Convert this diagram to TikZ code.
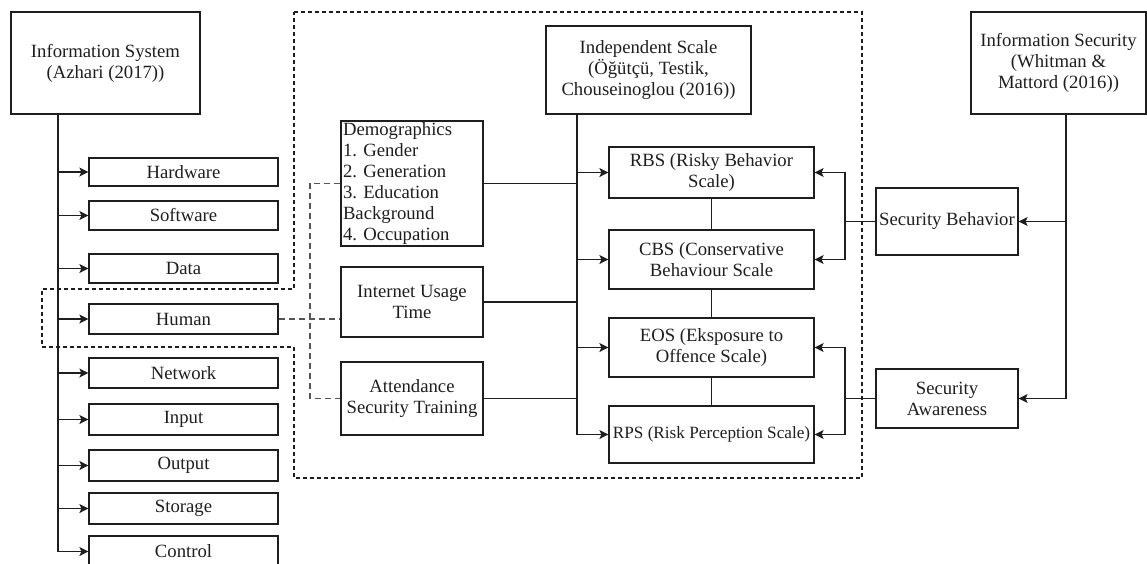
\documentclass[tikz,border=0pt]{standalone}
\usepackage{fontspec}
\setmainfont{Liberation Serif}
\usetikzlibrary{arrows.meta}
\definecolor{ink}{HTML}{1E1E1E}
\definecolor{dgray}{HTML}{555555}
\begin{document}
\frenchspacing
\begin{tikzpicture}[x=1pt,y=-1pt,
  box/.style={draw=ink,line width=1.2pt,rectangle,inner sep=1pt,align=center,
    text=ink,font=\fontsize{18.7}{21}\selectfont\frenchspacing},
  conn/.style={draw=ink,line width=1.2pt},
  arr/.style={conn,-{Stealth[length=9pt,width=9pt,inset=2pt]}},
  bound/.style={draw=ink,line width=1.2pt,dash pattern=on 4pt off 3pt},
  dsh/.style={draw=dgray,line width=1.4pt,dash pattern=on 6pt off 4pt}]
\useasboundingbox (0,0) rectangle (1147,563);

% dashed boundary
\draw[bound] (294,12) -- (862,12) -- (862,478) -- (294,478) -- (294,347)
  -- (42,347) -- (42,289) -- (294,289) -- cycle;

% left column
\node[box,minimum width=189pt,minimum height=102pt] (is) at (105.5,63)
  {Information System\\(Azhari (2017))};
\node[box,minimum width=189pt,minimum height=28pt] (hw) at (183.5,172) {Hardware};
\node[box,minimum width=189pt,minimum height=29pt] (sw) at (183.5,215.5) {Software};
\node[box,minimum width=189pt,minimum height=29pt] (da) at (183.5,268.5) {Data};
\node[box,minimum width=189pt,minimum height=30pt] (hu) at (183.5,319) {Human};
\node[box,minimum width=189pt,minimum height=30pt] (nw) at (183.5,373) {Network};
\node[box,minimum width=189pt,minimum height=31pt] (in) at (183.5,419.5) {Input};
\node[box,minimum width=189pt,minimum height=31pt] (ou) at (183.5,465.5) {Output};
\node[box,minimum width=189pt,minimum height=31pt] (st) at (183.5,508.5) {Storage};
\node[box,minimum width=189pt,minimum height=31pt] (co) at (183.5,551.5) {Control};
\coordinate (lt) at (58,114);
\draw[arr] (is.south -| lt) |- (co.west);
\foreach \n in {hw,sw,da,hu,nw,in,ou,st}
  \draw[arr] (lt |- \n.west) -- (\n.west);

% middle inputs
\node[box,align=left,text width=138pt,inner xsep=2pt,inner ysep=1pt,
  minimum height=125pt] (de) at (412,183.5)
  {Demographics\\1. Gender\\2. Generation\\3. Education\\Background\\4. Occupation};
\node[box,minimum width=142pt,minimum height=70pt] (it) at (412,302)
  {Internet Usage\\Time};
\node[box,minimum width=142pt,minimum height=73pt] (at) at (412,398.5)
  {Attendance\\Security Training};

% dashed links from Human
\coordinate (dv) at (310,300);
\draw[dsh] (hu.east) -- (it.west |- hu.east);
\draw[dsh] (de.west) -- (de.west -| dv) -- (at.west -| dv) -- (at.west);

% scales
\node[box,minimum width=205pt,minimum height=88pt] (ind) at (648.5,70)
  {Independent Scale\\(Öğütçü, Testik,\\Chouseinoglou (2016))};
\node[box,minimum width=205pt,minimum height=51pt] (rbs) at (711.5,172.5)
  {RBS (Risky Behavior\\Scale)};
\node[box,minimum width=205pt,minimum height=59pt] (cbs) at (711.5,259.5)
  {CBS (Conservative\\Behaviour Scale};
\node[box,minimum width=205pt,minimum height=59pt] (eos) at (711.5,347.5)
  {EOS (Eksposure to\\Offence Scale)};
\node[box,minimum width=205pt,minimum height=57pt,inner sep=0pt,
  font=\fontsize{17.2}{20}\selectfont] (rps) at (711.5,434.5)
  {RPS (Risk Perception Scale)};

\coordinate (mt) at (577,300);
\draw[conn] (de.east) -- (de.east -| mt);
\draw[conn] (it.east) -- (it.east -| mt);
\draw[conn] (at.east) -- (at.east -| mt);
\draw[arr] (ind.south -| mt) |- (rps.west);
\foreach \n in {rbs,cbs,eos}
  \draw[arr] (mt |- \n.west) -- (\n.west);
\draw[conn] (rbs) -- (cbs);
\draw[conn] (cbs) -- (eos);
\draw[conn] (eos) -- (rps);

% right side
\node[box,minimum width=175pt,minimum height=102pt] (isec) at (1058.5,63)
  {Information Security\\(Whitman \&\\Mattord (2016))};
\node[box,minimum width=142pt,minimum height=67pt,inner sep=0pt] (sb) at (947,221.5)
  {Security Behavior};
\node[box,minimum width=142pt,minimum height=59pt] (sa) at (947,398.5)
  {Security\\Awareness};

\coordinate (rt) at (845,300);
\draw[conn] (sb.west) -- (sb.west -| rt);
\draw[arr] (sb.west -| rt) |- (rbs.east);
\draw[arr] (sb.west -| rt) |- (cbs.east);
\draw[conn] (sa.west) -- (sa.west -| rt);
\draw[arr] (sa.west -| rt) |- (eos.east);
\draw[arr] (sa.west -| rt) |- (rps.east);

\coordinate (rr) at (1066,300);
\draw[arr] (isec.south -| rr) |- (sa.east);
\draw[arr] (rr |- sb.east) -- (sb.east);
\end{tikzpicture}
\end{document}
